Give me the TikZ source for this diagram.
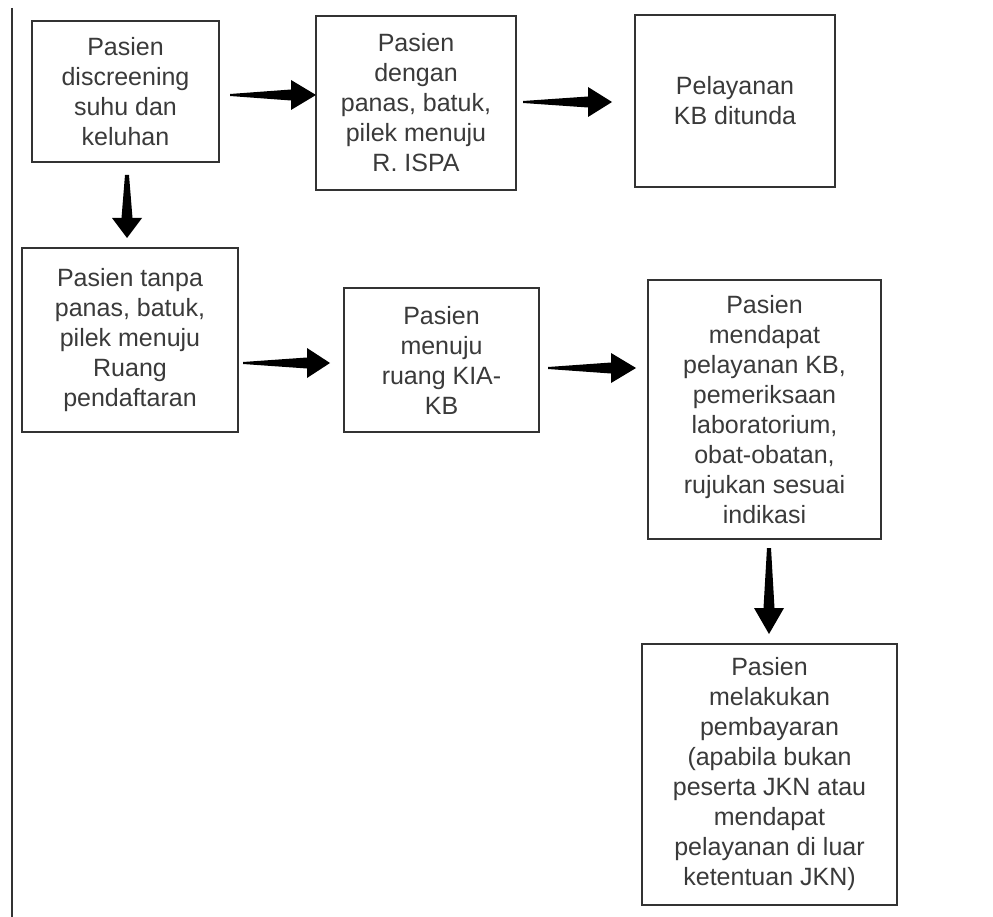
\documentclass[tikz,border=0pt]{standalone}
\usepackage{fontspec}
\setmainfont{Liberation Sans}
\usetikzlibrary{calc}
\definecolor{txt}{HTML}{3A3A3A}
\definecolor{edge}{HTML}{333333}
\tikzset{
  box/.style={draw=edge, line width=2pt, fill=white, align=center, text=txt,
    inner sep=0pt, font=\fontsize{25}{30}\selectfont},
  arrowfill/.style={fill=black}
}
\newcommand\harrow[3]{%
  \fill[arrowfill] ($(#1)+(0,-1)$) -- ($(#2)+(-#3,-5.5)$) -- ($(#2)+(-#3,-15)$) -- (#2)
    -- ($(#2)+(-#3,15)$) -- ($(#2)+(-#3,5.5)$) -- ($(#1)+(0,1)$) -- cycle;}
\newcommand\varrow[3]{%
  \fill[arrowfill] ($(#1)+(-2,0)$) -- ($(#2)+(-5.5,-#3)$) -- ($(#2)+(-15,-#3)$) -- (#2)
    -- ($(#2)+(15,-#3)$) -- ($(#2)+(5.5,-#3)$) -- ($(#1)+(2,0)$) -- cycle;}
\begin{document}
\begin{tikzpicture}[x=1pt, y=-1pt]
\useasboundingbox (0,0) rectangle (993,917);
\fill[white] (0,0) rectangle (993,917);
\draw[edge, line width=2.5pt] (12,8) -- (12,917);

\node[box, minimum width=187pt, minimum height=141pt] (A) at (125.5,91.5)
  {Pasien\\discreening\\suhu dan\\keluhan};
\node[box, minimum width=200pt, minimum height=174pt] (B) at (416,103)
  {Pasien\\dengan\\panas, batuk,\\pilek menuju\\R. ISPA};
\node[box, minimum width=200pt, minimum height=172pt] (C) at (735,101)
  {Pelayanan\\KB ditunda};
\node[box, minimum width=216pt, minimum height=184pt] (D) at (130,340)
  {Pasien tanpa\\panas, batuk,\\pilek menuju\\Ruang\\pendaftaran};
\node[box, minimum width=195pt, minimum height=144pt] (E) at (441.5,360)
  {Pasien\\menuju\\ruang KIA-\\KB};
\node[box, minimum width=233pt, minimum height=259pt] (F) at (764.5,409.5)
  {Pasien\\mendapat\\pelayanan KB,\\pemeriksaan\\laboratorium,\\obat-obatan,\\rujukan sesuai\\indikasi};
\node[box, minimum width=255pt, minimum height=261pt] (G) at (769.5,774.5)
  {Pasien\\melakukan\\pembayaran\\(apabila bukan\\peserta JKN atau\\mendapat\\pelayanan di luar\\ketentuan JKN)};

\coordinate (a1s) at (230,95);  \coordinate (a1e) at (316,95);
\coordinate (a2s) at (523,102); \coordinate (a2e) at (612,102);
\coordinate (a3s) at (243,363); \coordinate (a3e) at (330,363);
\coordinate (a4s) at (548,368); \coordinate (a4e) at (636,368);
\coordinate (v1s) at (127,175); \coordinate (v1e) at (127,238);
\coordinate (v2s) at (769,548); \coordinate (v2e) at (769,634);

\harrow{a1s}{a1e}{25}
\harrow{a2s}{a2e}{24}
\harrow{a3s}{a3e}{23}
\harrow{a4s}{a4e}{25}
\varrow{v1s}{v1e}{20}
\varrow{v2s}{v2e}{26}
\end{tikzpicture}
\end{document}
